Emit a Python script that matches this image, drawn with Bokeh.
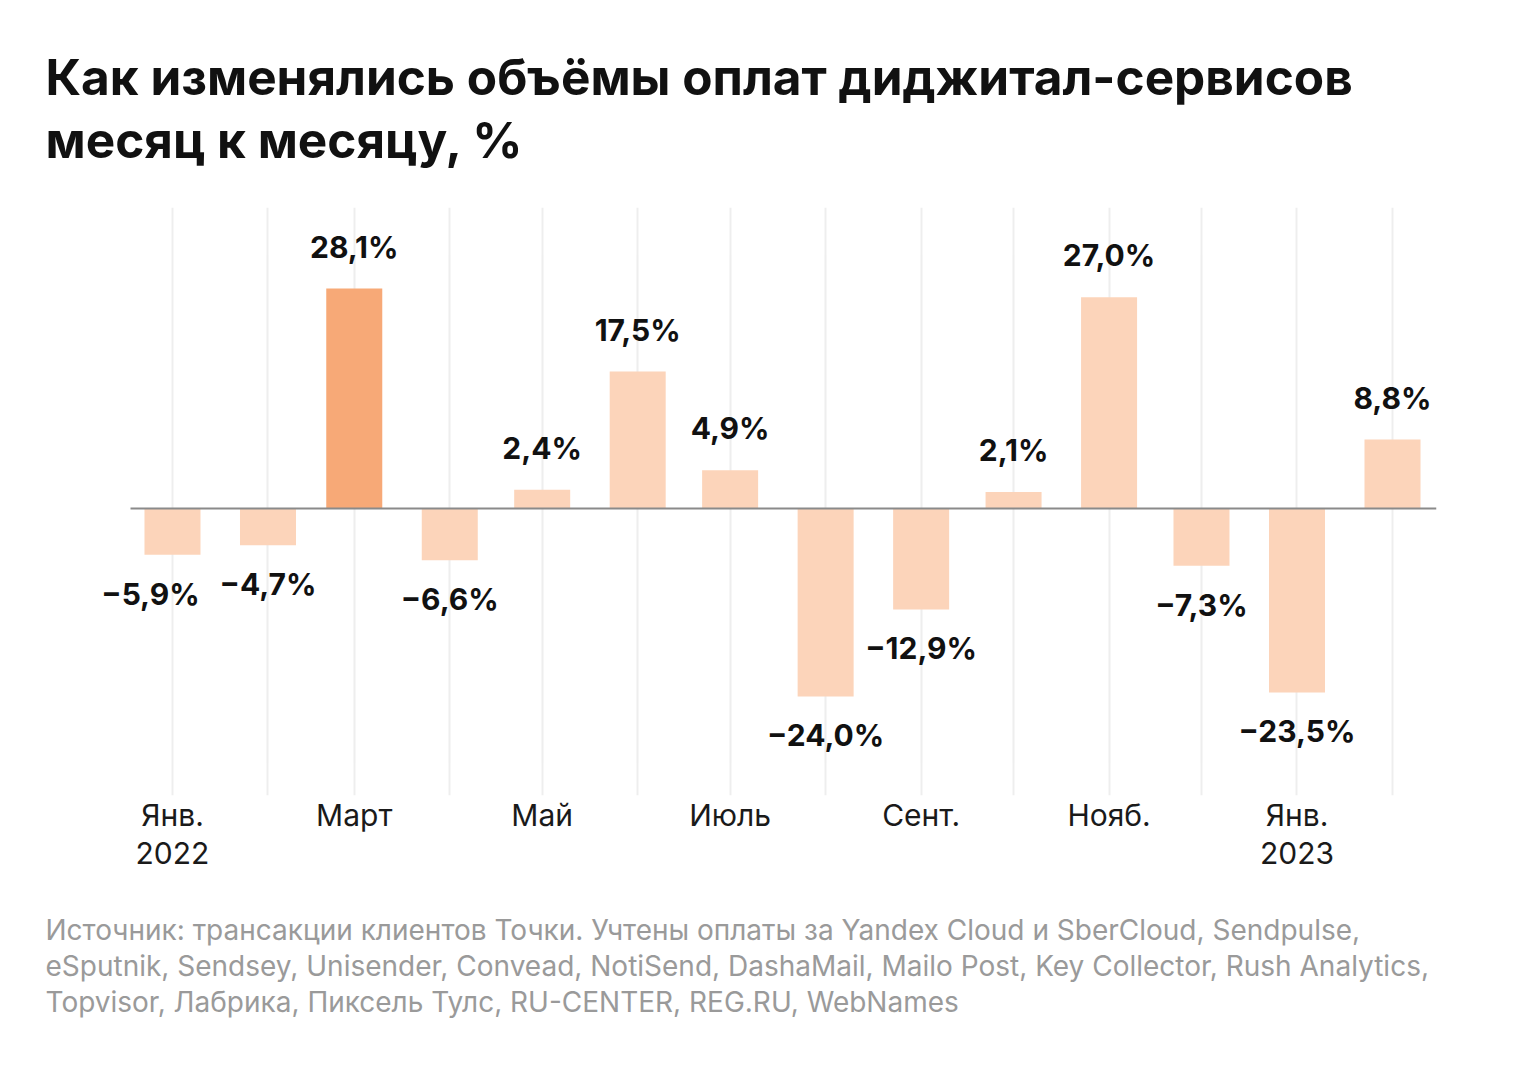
from datetime import date
from bokeh.plotting import figure
from bokeh.models import ColumnDataSource, Range1d, FixedTicker, Title, LabelSet
from bokeh.core.properties import value
from bokeh.embed import file_html
from bokeh.resources import INLINE

# ---- data ----
months = [date(2022, m, 1) for m in range(1, 13)] + [date(2023, 1, 1), date(2023, 2, 1)]
values = [-5.9, -4.7, 28.1, -6.6, 2.4, 17.5, 4.9, -24.0, -12.9, 2.1, 27.0, -7.3, -23.5, 8.8]
highlight = [False, False, True, False, False, False, False, False, False, False, False, False, False, False]
tick_labels = ["Янв.\n2022", "", "Март", "", "Май", "", "Июль", "", "Сент.", "", "Нояб.", "", "Янв.\n2023", ""]

title_text = "Как изменялись объёмы оплат диджитал-сервисов\nмесяц к месяцу, %"
source_text = ("Источник: трансакции клиентов Точки. Учтены оплаты за Yandex Cloud и SberCloud, Sendpulse,\n"
               "eSputnik, Sendsey, Unisender, Convead, NotiSend, DashaMail, Mailo Post, Key Collector, Rush Analytics,\n"
               "Topvisor, Лабрика, Пиксель Тулс, RU-CENTER, REG.RU, WebNames")

# ---- styling ----
FONT = "Inter"
COL_HI = "#F7A977"
COL_LO = "#FCD4BA"
label_dx = [-22, 0, 0, 0, 0, 0, 0, 0, 0, 0, 0, 0, 0, 0]

origin = date(2022, 1, 1)
xs = [(m - origin).days for m in months]
line_start = xs[0] - 13.63
line_end = xs[-1] + 14.28

def fmt(v):
    return f"{v:.1f}".replace(".", ",").replace("-", "\u2212") + "%"

src = ColumnDataSource(dict(
    x=xs,
    top=values,
    color=[COL_HI if h else COL_LO for h in highlight],
    label=[fmt(v) for v in values],
    dy=[42 if v >= 0 else -39 for v in values],
    dx=label_dx,
))

p = figure(width=1536, height=1066, output_backend="svg", toolbar_location=None,
           x_range=Range1d(xs[0] - 24.99, line_end),
           y_range=Range1d(-36.66, 38.45),
           y_axis_location=None,
           min_border_left=95, min_border_right=100,
           min_border_top=207, min_border_bottom=271)
p.outline_line_color = None
p.background_fill_color = "white"
p.border_fill_color = "white"
p.ygrid.visible = False

p.vbar(x="x", top="top", bottom=0, width=18.18, color="color", line_color=None, source=src)
p.segment(x0=[line_start], y0=[0], x1=[line_end], y1=[0], line_color="#8a8a8a", line_width=2)

labels = LabelSet(x="x", y="top", text="label", x_offset="dx", y_offset="dy", source=src,
                  text_font=value(FONT), text_font_style="bold", text_font_size="30px",
                  text_align="center", text_baseline="middle", text_color="#111111")
p.add_layout(labels)

ax = p.xaxis[0]
ax.ticker = FixedTicker(ticks=xs)
ax.major_label_overrides = {x: lab for x, lab in zip(xs, tick_labels)}
ax.axis_line_color = None
ax.major_tick_line_color = None
ax.minor_tick_line_color = None
ax.major_label_standoff = -5
ax.major_label_text_font = FONT
ax.major_label_text_font_size = "30px"
ax.major_label_text_line_height = 1.08
ax.major_label_text_color = "#1a1a1a"

p.xgrid.ticker = FixedTicker(ticks=xs)
p.xgrid.grid_line_color = "#EEEEEE"
p.xgrid.grid_line_width = 2

p.add_layout(Title(text=source_text, align="left", offset=-50, standoff=74,
                   text_font=FONT, text_font_size="28px", text_font_style="normal",
                   text_color="#9a9a9a", text_line_height=1.06), "below")
p.add_layout(Title(text=title_text, align="left", offset=-50, standoff=76,
                   text_font=FONT, text_font_size="49.5px", text_font_style="bold",
                   text_color="#111111", text_line_height=1.05), "above")

open("out.html", "w").write(file_html(p, INLINE))
